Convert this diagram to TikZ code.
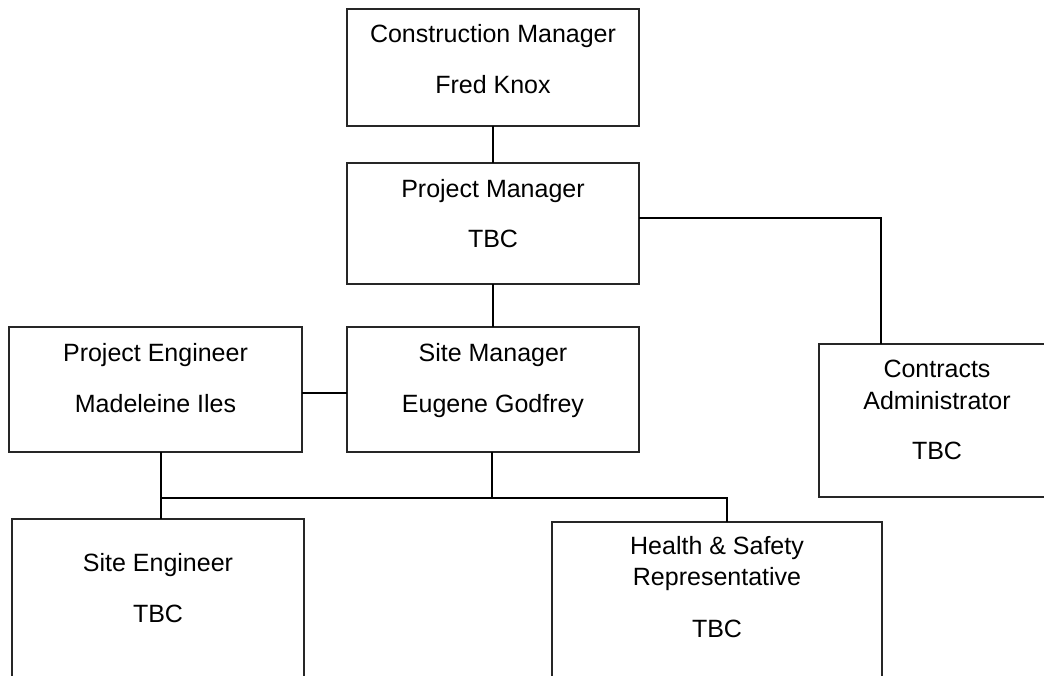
\documentclass[tikz,border=0pt]{standalone}
\usepackage{fontspec}
\setmainfont{Liberation Sans}
\begin{document}
\begin{tikzpicture}[x=1pt,y=-1pt,
  box/.style={draw=black!85, line width=1.6pt, rectangle, inner sep=0pt, outer sep=0pt},
  txt/.style={anchor=base, inner sep=0pt, font=\fontsize{25}{30}\selectfont},
  link/.style={draw=black, line width=1.8pt}]
\useasboundingbox (0,0) rectangle (1044,676);
\clip (0,0) rectangle (1044,676);
% boxes
\node[box, minimum width=292pt, minimum height=117pt] (cm) at (493,67.5) {};
\node[box, minimum width=292pt, minimum height=121pt] (pm) at (493,223.5) {};
\node[box, minimum width=292pt, minimum height=125pt] (sm) at (493,389.5) {};
\node[box, minimum width=293pt, minimum height=125pt] (pe) at (155.5,389.5) {};
\node[box, minimum width=236pt, minimum height=153pt] (ca) at (937,420.5) {};
\node[box, minimum width=292pt, minimum height=200pt] (se) at (158,619) {};
\node[box, minimum width=330pt, minimum height=200pt] (hs) at (717,622) {};
% texts
\node[txt] at (493,43) {Construction Manager};
\node[txt] at (493,94) {Fred Knox};
\node[txt] at (493,198) {Project Manager};
\node[txt] at (493,248) {TBC};
\node[txt] at (493,361) {Site Manager};
\node[txt] at (493,412) {Eugene Godfrey};
\node[txt] at (155.5,361) {Project Engineer};
\node[txt] at (155.5,412) {Madeleine Iles};
\node[txt] at (937,377) {Contracts};
\node[txt] at (937,409) {Administrator};
\node[txt] at (937,459) {TBC};
\node[txt] at (158,571) {Site Engineer};
\node[txt] at (158,622) {TBC};
\node[txt] at (717,554) {Health \& Safety};
\node[txt] at (717,585) {Representative};
\node[txt] at (717,637) {TBC};
% connectors
\coordinate (jca) at (881,218);
\coordinate (jpe) at (0,393);
\coordinate (jl) at (161,498);
\coordinate (jm) at (492,498);
\coordinate (jr) at (727,498);
\draw[link] (cm.south) -- (pm.north);
\draw[link] (pm.south) -- (sm.north);
\draw[link] (pm.east |- jca) -- (jca) -- (ca.north -| jca);
\draw[link] (pe.east |- jpe) -- (sm.west |- jpe);
\draw[link] (sm.south -| jm) -- (jm);
\draw[link] (pe.south -| jl) -- (jl) -- (jr) -- (hs.north -| jr);
\draw[link] (jl) -- (se.north -| jl);
\end{tikzpicture}
\end{document}
